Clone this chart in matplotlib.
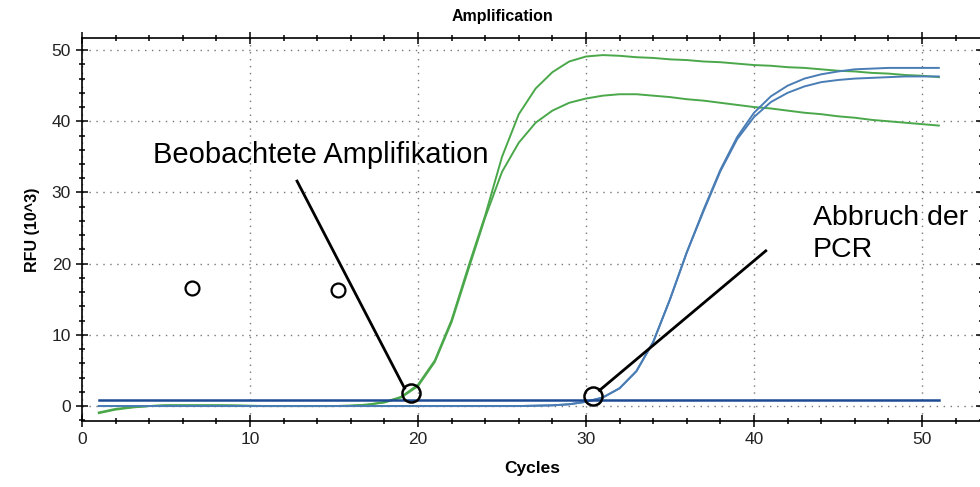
import numpy as np
import matplotlib
matplotlib.use('Agg')
import matplotlib.pyplot as plt
from matplotlib.ticker import MultipleLocator

#%%
# data (RFU in 10^3)
cycles = np.arange(1, 52)

green_a = [-1.0, -0.5, -0.2, 0.0, 0.1, 0.1, 0.1, 0.1, 0.1, 0.05,
           0.0, 0.0, 0.0, 0.0, 0.0, 0.05, 0.2, 0.55, 1.3, 3.0,
           6.4, 12.1, 19.6, 26.8, 35.0, 41.0, 44.6, 46.9, 48.4, 49.1,
           49.3, 49.2, 49.0, 48.9, 48.7, 48.6, 48.4, 48.3, 48.1, 47.9,
           47.8, 47.6, 47.5, 47.3, 47.1, 47.0, 46.8, 46.7, 46.5, 46.4, 46.2]
green_b = [-0.9, -0.4, -0.15, 0.0, 0.1, 0.1, 0.1, 0.1, 0.05, 0.0,
           0.0, 0.0, 0.0, 0.0, 0.0, 0.05, 0.2, 0.5, 1.2, 2.8,
           6.2, 11.8, 19.2, 26.5, 32.9, 37.0, 39.8, 41.5, 42.6, 43.2,
           43.6, 43.8, 43.8, 43.6, 43.4, 43.1, 42.9, 42.6, 42.3, 42.0,
           41.8, 41.5, 41.2, 41.0, 40.7, 40.5, 40.2, 40.0, 39.8, 39.6, 39.4]
blue_a = [0.0] * 26 + [0.05, 0.1, 0.25, 0.6, 1.2, 2.5, 4.9, 9.0, 15.0, 21.6,
                       27.6, 33.2, 37.8, 41.2, 43.5, 45.0, 46.0, 46.6, 47.0, 47.3,
                       47.4, 47.5, 47.5, 47.5, 47.5]
blue_b = [0.0] * 26 + [0.05, 0.1, 0.25, 0.6, 1.2, 2.5, 4.9, 9.0, 15.0, 21.6,
                       27.4, 33.0, 37.5, 40.6, 42.7, 44.0, 44.9, 45.5, 45.8, 46.0,
                       46.1, 46.2, 46.3, 46.3, 46.3]
threshold = 0.85

# annotation marks (cycle, RFU)
obs_circle = (19.6, 1.8)
obs_line = ([12.8, 19.2], [31.6, 2.5])
stop_circle = (30.4, 1.4)
stop_line = ([40.7, 30.8], [21.8, 2.2])
small_circles_x = [6.55, 15.24]
small_circles_y = [16.6, 16.3]

#%%
plt.rcParams['font.family'] = ['Liberation Sans', 'DejaVu Sans']
fig = plt.figure(figsize=(9.8, 4.87), dpi=100)
ax = fig.add_axes([82 / 980, 66 / 487, 900 / 980, 383 / 487])

green = '#4aa84a'
blue = '#4a7db5'
ax.plot(cycles, green_a, color=green, lw=1.4)
ax.plot(cycles, green_b, color=green, lw=1.4)
ax.plot(cycles, blue_a, color=blue, lw=1.4)
ax.plot(cycles, blue_b, color=blue, lw=1.4)
ax.plot([cycles[0], cycles[-1]], [threshold, threshold], color='#1c4a94', lw=1.8)

ax.plot(*obs_line, color='black', lw=2)
ax.plot(*stop_line, color='black', lw=2)
ax.plot(*obs_circle, 'o', ms=13, mfc='none', mec='black', mew=1.8)
ax.plot(*stop_circle, 'o', ms=13, mfc='none', mec='black', mew=1.8)
ax.plot(small_circles_x, small_circles_y, 'o', ls='none', ms=10, mfc='none', mec='black', mew=1.6)

ax.text(4.2, 35.2, 'Beobachtete Amplifikation', fontsize=21, va='center', ha='left')
ax.text(43.5, 28.3, 'Abbruch der\nPCR', fontsize=20.5, va='top', ha='left', linespacing=1.3)

ax.set_xlim(0, 53.57)
ax.set_ylim(-2.1, 51.7)
ax.xaxis.set_major_locator(MultipleLocator(10))
ax.xaxis.set_minor_locator(MultipleLocator(2))
ax.yaxis.set_major_locator(MultipleLocator(10))
ax.yaxis.set_minor_locator(MultipleLocator(2))
ax.tick_params(which='both', direction='inout', top=True, right=True,
               labelsize=12.5, labelcolor='#222222', width=1.1)
ax.tick_params(which='major', length=9)
ax.tick_params(which='minor', length=5)
ax.grid(True, which='major', color='#777777', ls=(0, (1, 4)), lw=1)
for s in ax.spines.values():
    s.set_linewidth(1.2)

ax.set_xlabel('Cycles', fontsize=12.5, fontweight='bold', labelpad=10)
ax.set_ylabel('RFU (10^3)', fontsize=11.5, fontweight='bold', labelpad=8)
fig.text(502 / 980, 1 - 17 / 487, 'Amplification', fontsize=11.5, fontweight='bold',
         ha='center', va='center')

fig.savefig('out.png', dpi=100)
